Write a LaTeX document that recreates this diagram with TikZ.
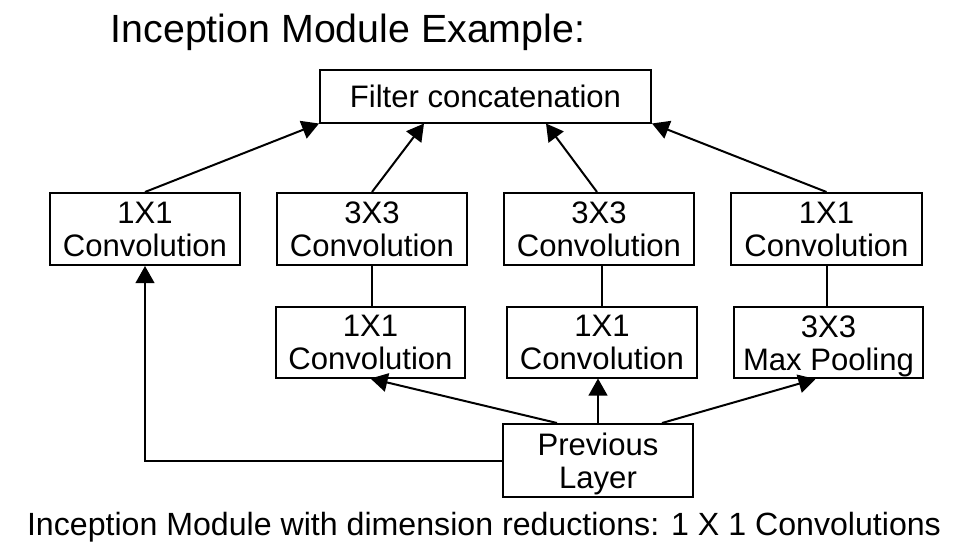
\documentclass[tikz,border=0pt]{standalone}
\usepackage{fontspec}
\setmainfont{Liberation Sans}
\usetikzlibrary{arrows.meta,calc}
\newcommand\bline[1]{\rule{0pt}{16.5pt}\smash{#1}}
\begin{document}
\begin{tikzpicture}[x=0.75pt,y=-0.75pt,
  box/.style={draw,line width=1.5pt,inner sep=0pt,align=center,
    font=\fontsize{23.3}{24.75}\selectfont},
  conn/.style={line width=1.5pt},
  arr/.style={conn,-{Triangle[length=12.75pt,width=14pt]}},
  lbl/.style={inner sep=0pt,anchor=center}]
\useasboundingbox (0,0) rectangle (962,553);
\node[lbl,font=\fontsize{29.5}{32}\selectfont] (title) at (348,32) {Inception Module Example:};
\node[box,minimum width=331*0.75pt,minimum height=53*0.75pt] (concat) at (485.5,96) {\bline{Filter concatenation}};
\node[box,minimum width=190*0.75pt,minimum height=72*0.75pt] (c1t) at (145,229) {\bline{1X1}\\\bline{Convolution}};
\node[box,minimum width=190*0.75pt,minimum height=72*0.75pt] (c2t) at (372,229) {\bline{3X3}\\\bline{Convolution}};
\node[box,minimum width=190*0.75pt,minimum height=72*0.75pt] (c3t) at (599,229) {\bline{3X3}\\\bline{Convolution}};
\node[box,minimum width=191*0.75pt,minimum height=72*0.75pt] (c4t) at (826.5,229) {\bline{1X1}\\\bline{Convolution}};
\node[box,minimum width=189*0.75pt,minimum height=71*0.75pt] (c2b) at (370.5,342) {\bline{1X1}\\\bline{Convolution}};
\node[box,minimum width=190*0.75pt,minimum height=71*0.75pt] (c3b) at (602,342) {\bline{1X1}\\\bline{Convolution}};
\node[box,minimum width=189*0.75pt,minimum height=71*0.75pt] (c4b) at (828.5,342.5) {\bline{3X3}\\\bline{Max Pooling}};
\node[box,minimum width=190*0.75pt,minimum height=73*0.75pt] (prev) at (598,460.5) {\bline{Previous}\\\bline{Layer}};
\node[lbl,font=\fontsize{24.1}{26}\selectfont] (cap) at (484,527) {Inception Module with dimension reductions: 1 X 1 Convolutions};
% top arrows
\draw[arr] (c1t.north) -- (concat.south west);
\draw[arr] (c2t.north) -- ($(concat.south west)+(105,0)$);
\draw[arr] ($(c3t.north)+(-2,0)$) -- ($(concat.south west)+(227,0)$);
\draw[arr] (c4t.north) -- (concat.south east);
% vertical links
\draw[conn] (c2t.south) -- (c2t.south |- c2b.north);
\draw[conn] (c3t.south -| c3b.north) -- (c3b.north);
\draw[conn] (c4t.south) -- (c4t.south |- c4b.north);
% bottom arrows
\draw[arr] ($(prev.north)+(-41,0)$) -- (c2b.south);
\draw[arr] (prev.north) -- (prev.north |- c3b.south);
\draw[arr] ($(prev.north)+(64,0)$) -- ($(c4b.south)+(-13,0)$);
\draw[arr] (prev.west) -| (c1t.south);
\end{tikzpicture}
\end{document}
